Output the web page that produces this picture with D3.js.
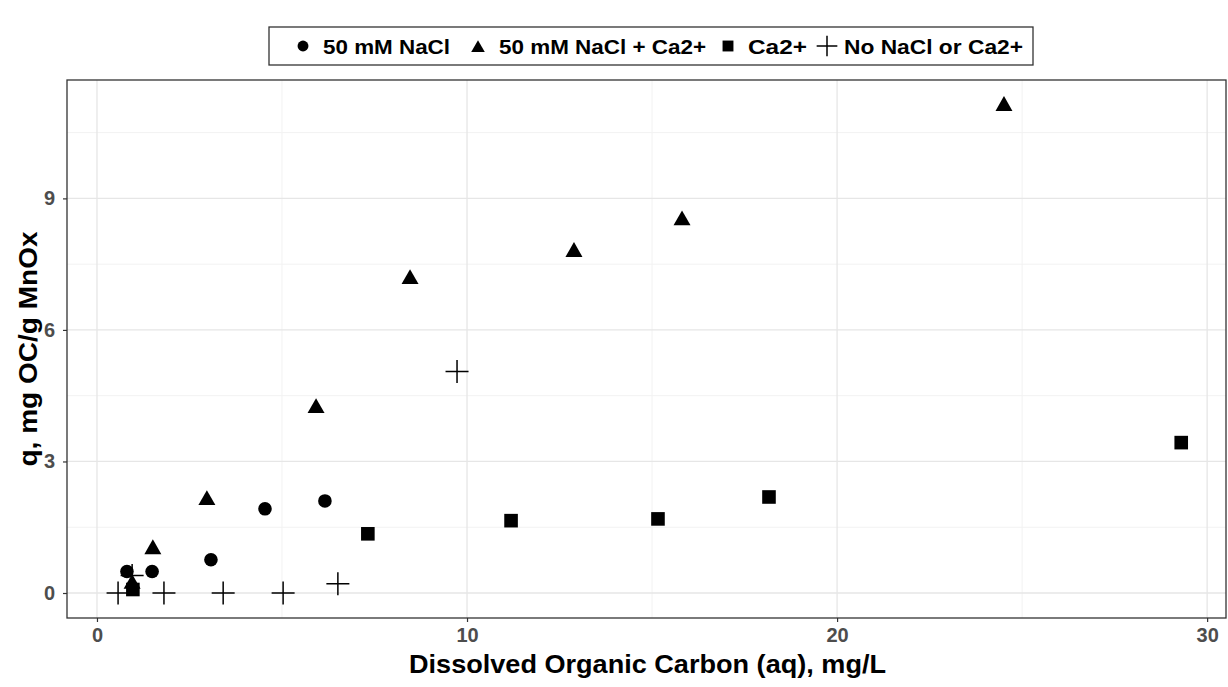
<!DOCTYPE html>
<html>
<head>
<meta charset="utf-8">
<script src="https://cdn.jsdelivr.net/npm/d3@7"></script>
<style>
  html, body { margin: 0; padding: 0; background: #fff; }
  svg { display: block; font-family: "Liberation Sans", Arial, sans-serif; }
</style>
</head>
<body>
<svg id="chart" width="1228" height="687"></svg>
<script>
// Sorption of organic carbon on MnOx under different electrolyte conditions
const seriesNames = ["50 mM NaCl", "50 mM NaCl + Ca2+", "Ca2+", "No NaCl or Ca2+"];
const seriesShapes = ["circle", "triangle", "square", "cross"];

const nacl_x = [0.81, 1.49, 3.08, 4.54, 6.16];
const nacl_q = [0.49, 0.49, 0.76, 1.92, 2.10];

const naclCa_x = [0.95, 1.51, 2.97, 5.92, 8.46, 12.89, 15.81, 24.51];
const naclCa_q = [0.24, 1.03, 2.15, 4.25, 7.19, 7.81, 8.53, 11.14];

const ca_x = [0.97, 7.32, 11.19, 15.16, 18.16, 29.30];
const ca_q = [0.08, 1.35, 1.65, 1.69, 2.19, 3.43];

const none_x = [0.57, 0.95, 1.81, 3.41, 5.03, 6.51, 9.73];
const none_q = [0.00, 0.40, 0.00, 0.00, 0.00, 0.21, 5.05];

const xTicks = [0, 10, 20, 30];
const yTicks = [0, 3, 6, 9];
const xMinor = [5, 15, 25];
const yMinor = [1.5, 4.5, 7.5, 10.5];

const xTitle = "Dissolved Organic Carbon (aq), mg/L";
const yTitle = "q, mg OC/g MnOx";

const series = [
  { name: seriesNames[0], shape: seriesShapes[0], xs: nacl_x, ys: nacl_q },
  { name: seriesNames[1], shape: seriesShapes[1], xs: naclCa_x, ys: naclCa_q },
  { name: seriesNames[2], shape: seriesShapes[2], xs: ca_x, ys: ca_q },
  { name: seriesNames[3], shape: seriesShapes[3], xs: none_x, ys: none_q }
];

const svg = d3.select("#chart");
const panel = { left: 67, top: 80, right: 1226, bottom: 618 };

const x = d3.scaleLinear().domain([-0.81, 30.51]).range([panel.left, panel.right]);
const y = d3.scaleLinear().domain([-0.57, 11.7]).range([panel.bottom, panel.top]);

// grid
const grid = svg.append("g");
grid.selectAll(".xminor").data(xMinor).join("line")
  .attr("x1", d => x(d)).attr("x2", d => x(d))
  .attr("y1", panel.top).attr("y2", panel.bottom)
  .attr("stroke", "#f2f2f2").attr("stroke-width", 1);
grid.selectAll(".yminor").data(yMinor).join("line")
  .attr("y1", d => y(d)).attr("y2", d => y(d))
  .attr("x1", panel.left).attr("x2", panel.right)
  .attr("stroke", "#f2f2f2").attr("stroke-width", 1);
grid.selectAll(".xmajor").data(xTicks).join("line")
  .attr("x1", d => x(d)).attr("x2", d => x(d))
  .attr("y1", panel.top).attr("y2", panel.bottom)
  .attr("stroke", "#e6e6e6").attr("stroke-width", 1.3);
grid.selectAll(".ymajor").data(yTicks).join("line")
  .attr("y1", d => y(d)).attr("y2", d => y(d))
  .attr("x1", panel.left).attr("x2", panel.right)
  .attr("stroke", "#e6e6e6").attr("stroke-width", 1.3);

// axes
const xAxis = svg.append("g")
  .attr("transform", `translate(0,${panel.bottom})`)
  .call(d3.axisBottom(x).tickValues(xTicks).tickSize(4).tickPadding(6).tickFormat(d3.format("d")));
const yAxis = svg.append("g")
  .attr("transform", `translate(${panel.left},0)`)
  .call(d3.axisLeft(y).tickValues(yTicks).tickSize(4).tickPadding(8).tickFormat(d3.format("d")));
[xAxis, yAxis].forEach(a => {
  a.select(".domain").remove();
  a.selectAll(".tick line").attr("stroke", "#333").attr("stroke-width", 1.2);
  a.selectAll(".tick text")
    .attr("fill", "#4d4d4d")
    .attr("font-size", 20)
    .attr("font-weight", "bold")
    .attr("font-family", "'Liberation Sans', Arial, sans-serif");
});

// panel border
svg.append("rect")
  .attr("x", panel.left).attr("y", panel.top)
  .attr("width", panel.right - panel.left).attr("height", panel.bottom - panel.top)
  .attr("fill", "none").attr("stroke", "#333").attr("stroke-width", 1.3);

// point symbols
function drawSymbol(g, shape, cx, cy, scale = 1) {
  if (shape === "circle") {
    g.append("circle").attr("cx", cx).attr("cy", cy).attr("r", 6.8 * scale).attr("fill", "#000");
  } else if (shape === "triangle") {
    const s = 8.5 * scale;
    g.append("path")
      .attr("d", `M${cx},${cy - s} L${cx + s},${cy + s * 0.75} L${cx - s},${cy + s * 0.75} Z`)
      .attr("fill", "#000");
  } else if (shape === "square") {
    const s = 6.8 * scale;
    g.append("rect").attr("x", cx - s).attr("y", cy - s).attr("width", 2 * s).attr("height", 2 * s).attr("fill", "#000");
  } else {
    const s = 11.5 * scale;
    g.append("path")
      .attr("d", `M${cx - s},${cy} L${cx + s},${cy} M${cx},${cy - s} L${cx},${cy + s}`)
      .attr("stroke", "#000").attr("stroke-width", 1.5).attr("fill", "none");
  }
}

// crosses underneath, filled symbols on top
const pts = svg.append("g");
[series[3], series[0], series[1], series[2]].forEach(s => {
  s.xs.forEach((xv, i) => drawSymbol(pts, s.shape, x(xv), y(s.ys[i])));
});

// axis titles (slightly condensed bold face)
svg.append("text")
  .attr("x", 647.5).attr("y", 673)
  .attr("text-anchor", "middle")
  .attr("font-size", 25).attr("font-weight", "bold").attr("fill", "#000")
  .attr("textLength", 477).attr("lengthAdjust", "spacingAndGlyphs")
  .text(xTitle);
svg.append("text")
  .attr("transform", `translate(37,${(panel.top + panel.bottom) / 2}) rotate(-90)`)
  .attr("text-anchor", "middle")
  .attr("font-size", 25).attr("font-weight", "bold").attr("fill", "#000")
  .attr("textLength", 235).attr("lengthAdjust", "spacingAndGlyphs")
  .text(yTitle);

// legend
const legendItems = [
  { s: series[0], mx: 303, tx: 323, tw: 127 },
  { s: series[1], mx: 478, tx: 499, tw: 207 },
  { s: series[2], mx: 728, tx: 748, tw: 59 },
  { s: series[3], mx: 827, tx: 844, tw: 179 }
];
const legend = svg.append("g");
legend.append("rect")
  .attr("x", 269).attr("y", 27).attr("width", 1033 - 269).attr("height", 38)
  .attr("fill", "#fff").attr("stroke", "#333").attr("stroke-width", 1.3);
const ly = 46;
legendItems.forEach(it => {
  drawSymbol(legend, it.s.shape, it.mx, it.s.shape === "triangle" ? ly + 1 : ly, it.s.shape === "cross" ? 0.9 : 0.8);
  legend.append("text")
    .attr("x", it.tx).attr("y", ly + 7.5)
    .attr("font-size", 21).attr("font-weight", "bold").attr("fill", "#000")
    .attr("textLength", it.tw).attr("lengthAdjust", "spacingAndGlyphs")
    .text(it.s.name);
});
</script>
</body>
</html>
